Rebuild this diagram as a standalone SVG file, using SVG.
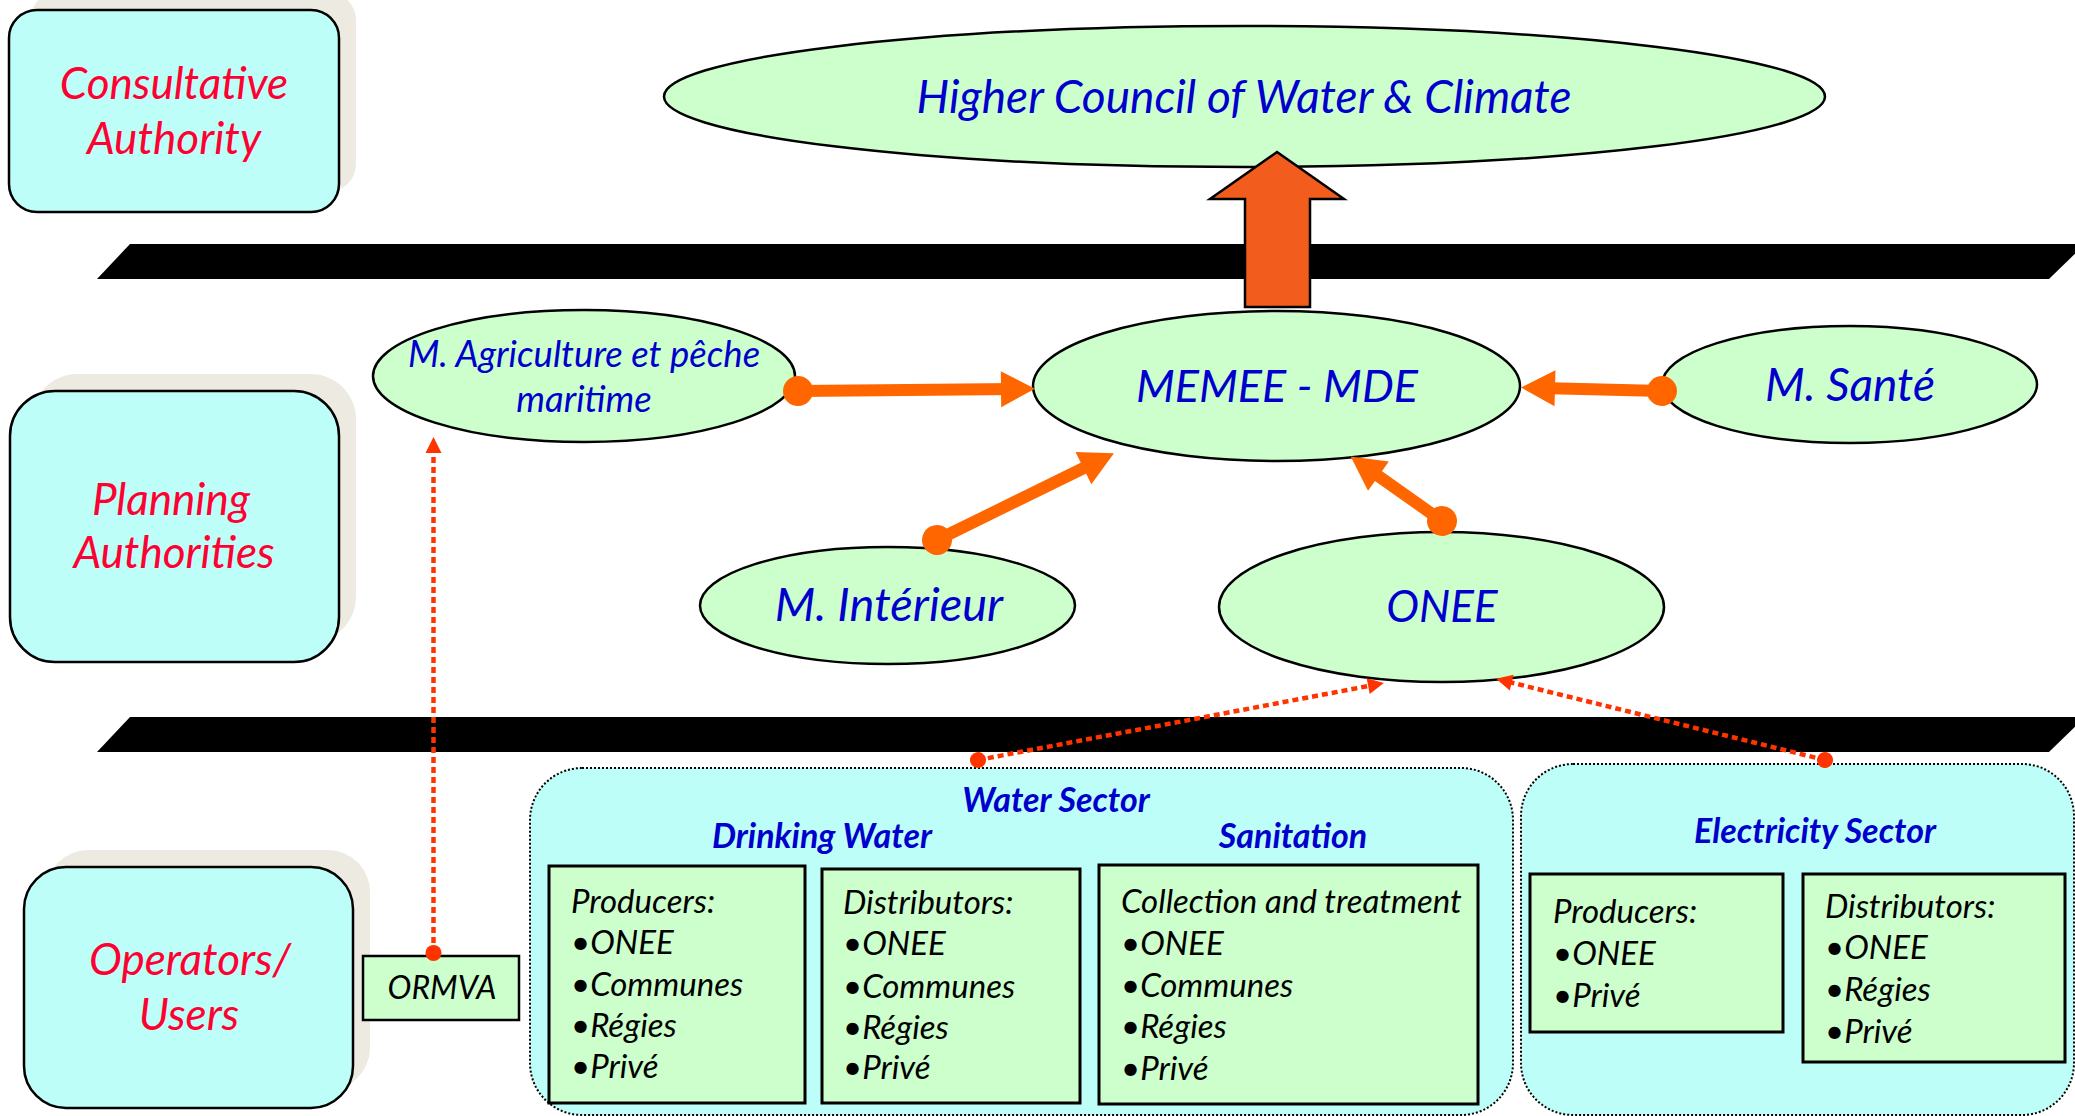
<svg xmlns="http://www.w3.org/2000/svg" width="2075" height="1116" viewBox="0 0 2075 1116">
<style>
text{font-family:Lato,"Open Sans","Liberation Sans",sans-serif;font-style:italic}
.auth{fill:#FF0033;font-size:44px;text-anchor:middle}
.ell{fill:#CCFFCC;stroke:#000;stroke-width:2.5}
.etxt{fill:#0000CC;font-size:46px;text-anchor:middle}
.abox{fill:#BDFFF8;stroke:#000;stroke-width:2.5}
.shadow{fill:#EDEBE1}
.bar{fill:#000}
.sect{fill:#BDFFF8;stroke:#000;stroke-width:2;stroke-dasharray:2 2}
.ibox{fill:#CCFFCC;stroke:#000;stroke-width:3}
.itxt{fill:#000;font-size:33px}
.sh{fill:#0000CC;font-size:34px;font-weight:bold;text-anchor:middle}
.conn{stroke:#FF6600;stroke-width:12;fill:none;marker-start:url(#dot);marker-end:url(#head)}
.dconn{stroke:#FF3300;stroke-width:4.5;fill:none;stroke-dasharray:6 4;marker-start:url(#sdot);marker-end:url(#shead)}
</style>
<defs>
<marker id="head" markerUnits="userSpaceOnUse" orient="auto" refX="14" refY="0" markerWidth="40" markerHeight="40" overflow="visible"><path d="M0,-18 L34,0 L0,18 Z" fill="#FF6600"/></marker>
<marker id="dot" markerUnits="userSpaceOnUse" orient="auto" refX="0" refY="0" markerWidth="40" markerHeight="40" overflow="visible"><circle r="15" fill="#FF6600"/></marker>
<marker id="shead" markerUnits="userSpaceOnUse" orient="auto" refX="11" refY="0" markerWidth="20" markerHeight="20" overflow="visible"><path d="M0,-8 L16,0 L0,8 Z" fill="#FF3300"/></marker>
<marker id="sdot" markerUnits="userSpaceOnUse" orient="auto" refX="0" refY="0" markerWidth="20" markerHeight="20" overflow="visible"><circle r="8" fill="#FF3300"/></marker>
</defs>
<rect width="2075" height="1116" fill="#fff"/>

<g id="consultative-authority">
<rect class="shadow" x="30" y="-8" width="326" height="200" rx="28"/>
<rect class="abox" x="9" y="10" width="330" height="202" rx="28"/>
<text class="auth" x="174" y="99">Consultative</text>
<text class="auth" x="174" y="154">Authority</text>
</g>
<g id="planning-authorities">
<rect class="shadow" x="32" y="374" width="324" height="268" rx="45"/>
<rect class="abox" x="10" y="391" width="329" height="271" rx="45"/>
<text class="auth" x="171" y="515">Planning</text>
<text class="auth" x="174" y="568">Authorities</text>
</g>
<g id="operators-users">
<rect class="shadow" x="46" y="850" width="324" height="240" rx="42"/>
<rect class="abox" x="24" y="867" width="329" height="241" rx="42"/>
<text class="auth" x="190" y="975">Operators/</text>
<text class="auth" x="189" y="1030">Users</text>
</g>

<g id="bars">
<polygon class="bar" points="130,244 2085,244 2049,279 97,279"/>
<polygon class="bar" points="130,717 2085,717 2049,752 97,752"/>
</g>

<g id="water-sector">
<rect class="sect" x="530" y="768" width="983" height="347" rx="52"/>
<text class="sh" x="1056" y="812">Water Sector</text>
<text class="sh" x="822" y="848">Drinking Water</text>
<text class="sh" x="1293" y="848">Sanitation</text>
</g>
<g id="electricity-sector">
<rect class="sect" x="1521" y="764" width="553" height="351" rx="52"/>
<text class="sh" x="1815" y="843">Electricity Sector</text>
</g>

<g id="dw-producers">
<rect class="ibox" x="549" y="866" width="256" height="237"/>
<text class="itxt" x="571" y="913">Producers:</text>
<text class="itxt" x="571" y="954">•ONEE</text>
<text class="itxt" x="571" y="996">•Communes</text>
<text class="itxt" x="571" y="1037">•Régies</text>
<text class="itxt" x="571" y="1078">•Privé</text>
</g>
<g id="dw-distributors">
<rect class="ibox" x="822" y="869" width="258" height="234"/>
<text class="itxt" x="843" y="914">Distributors:</text>
<text class="itxt" x="843" y="955">•ONEE</text>
<text class="itxt" x="843" y="998">•Communes</text>
<text class="itxt" x="843" y="1039">•Régies</text>
<text class="itxt" x="843" y="1079">•Privé</text>
</g>
<g id="sanitation-collection">
<rect class="ibox" x="1099" y="865" width="379" height="239"/>
<text class="itxt" x="1121" y="913">Collection and treatment</text>
<text class="itxt" x="1121" y="955">•ONEE</text>
<text class="itxt" x="1121" y="997">•Communes</text>
<text class="itxt" x="1121" y="1038">•Régies</text>
<text class="itxt" x="1121" y="1080">•Privé</text>
</g>
<g id="el-producers">
<rect class="ibox" x="1530" y="874" width="253" height="158"/>
<text class="itxt" x="1553" y="923">Producers:</text>
<text class="itxt" x="1553" y="965">•ONEE</text>
<text class="itxt" x="1553" y="1007">•Privé</text>
</g>
<g id="el-distributors">
<rect class="ibox" x="1803" y="874" width="262" height="188"/>
<text class="itxt" x="1825" y="918">Distributors:</text>
<text class="itxt" x="1825" y="959">•ONEE</text>
<text class="itxt" x="1825" y="1001">•Régies</text>
<text class="itxt" x="1825" y="1043">•Privé</text>
</g>
<g id="ormva">
<rect class="ibox" x="363" y="956" width="156" height="64" style="stroke-width:2.5"/>
<text class="itxt" x="442" y="999" style="text-anchor:middle;font-size:32px">ORMVA</text>
</g>

<g id="higher-council">
<ellipse class="ell" cx="1244.5" cy="96.5" rx="580.5" ry="70.5"/>
<text class="etxt" x="1244" y="113">Higher Council of Water &amp; Climate</text>
</g>
<g id="m-agriculture">
<ellipse class="ell" cx="584" cy="376" rx="211" ry="66"/>
<text class="etxt" x="584" y="367" style="font-size:36.5px">M. Agriculture et pêche</text>
<text class="etxt" x="584" y="412" style="font-size:36.5px">maritime</text>
</g>
<g id="memee-mde">
<ellipse class="ell" cx="1276.5" cy="386" rx="243.5" ry="75"/>
<text class="etxt" x="1277" y="402" style="font-size:45px">MEMEE - MDE</text>
</g>
<g id="m-sante">
<ellipse class="ell" cx="1849.5" cy="384.5" rx="187.5" ry="58.5"/>
<text class="etxt" x="1850" y="401">M. Santé</text>
</g>
<g id="m-interieur">
<ellipse class="ell" cx="887.5" cy="605.5" rx="187.5" ry="58.5"/>
<text class="etxt" x="889" y="621" style="font-size:47px">M. Intérieur</text>
</g>
<g id="onee">
<ellipse class="ell" cx="1441.5" cy="607" rx="222.5" ry="75"/>
<text class="etxt" x="1442" y="622" style="font-size:44px">ONEE</text>
</g>

<g id="connectors">
<polygon points="1245,307 1245,199 1210,199 1277,152 1344,199 1310,199 1310,307" fill="#F25C1C" stroke="#000" stroke-width="2.5"/>
<line class="conn" x1="798" y1="391" x2="1015" y2="389"/>
<line class="conn" x1="1662" y1="391" x2="1541" y2="388"/>
<line class="conn" x1="937" y1="540" x2="1096" y2="462"/>
<line class="conn" x1="1442" y1="521" x2="1367" y2="468"/>
<line class="dconn" x1="433.5" y1="953" x2="433.5" y2="442"/>
<line class="dconn" x1="978" y1="760" x2="1379" y2="684"/>
<line class="dconn" x1="1825" y1="760" x2="1501" y2="680"/>
</g>
</svg>
